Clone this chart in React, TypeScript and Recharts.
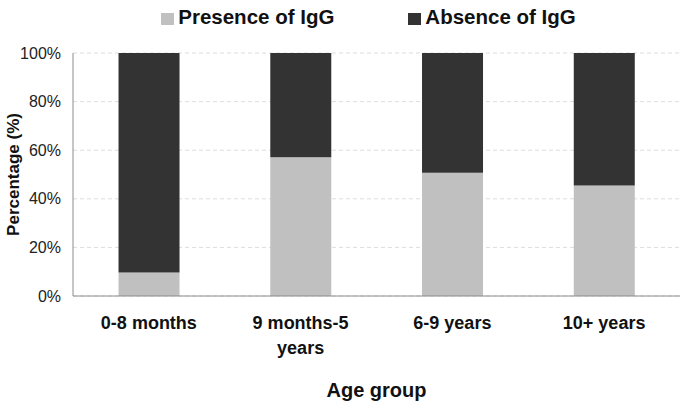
import React from "react"
import { Bar, BarChart, CartesianGrid, Legend, XAxis, YAxis } from "recharts"

const ageGroups = ["0-8 months", "9 months-5 years", "6-9 years", "10+ years"]
const presence = [9.7, 57.1, 50.7, 45.5]
const absence = presence.map((p) => 100 - p)
const yTicks = [0, 20, 40, 60, 80, 100]

const data = ageGroups.map((name, i) => ({ name, presence: presence[i], absence: absence[i] }))

const font = "Liberation Sans, Arial, sans-serif"

// wrap long category names onto two lines, like the original
function splitLabel(s: string): string[] {
  if (s.length <= 12) return [s]
  const i = s.lastIndexOf(" ")
  return [s.slice(0, i), s.slice(i + 1)]
}

function AgeTick(props: any) {
  const { x, y, payload } = props
  const lines = splitLabel(payload.value)
  return (
    <text x={x} y={y} textAnchor="middle" fontSize={18} fontWeight="bold" fontFamily={font} fill="#111">
      {lines.map((l, i) => (
        <tspan key={i} x={x} dy={i === 0 ? 25 : 25}>
          {l}
        </tspan>
      ))}
    </text>
  )
}

function LegendBox() {
  const items = [
    { label: "Presence of IgG", color: "#c0c0c0" },
    { label: "Absence of IgG", color: "#333333" },
  ]
  return (
    <div style={{ display: "flex", justifyContent: "center", gap: 74, marginLeft: 52, fontFamily: font, fontWeight: "bold", fontSize: 20.5, color: "#111", lineHeight: "24px" }}>
      {items.map((it) => (
        <div key={it.label} style={{ display: "flex", alignItems: "center" }}>
          <span style={{ display: "inline-block", width: 13, height: 12, background: it.color, marginRight: 4, marginTop: 4 }} />
          <span>{it.label}</span>
        </div>
      ))}
    </div>
  )
}

export default function App() {
  return (
    <div style={{ position: "absolute", left: 0, top: 0, background: "#fff" }}>
      <BarChart width={685} height={410} data={data} margin={{ top: 53, right: 5, bottom: 0, left: 0 }} barCategoryGap="30%">
        <CartesianGrid vertical={false} stroke="#dddddd" strokeDasharray="4 3" />
        <XAxis
          dataKey="name"
          tick={<AgeTick />}
          tickLine={false}
          axisLine={{ stroke: "#8c8c8c" }}
          height={114}
          interval={0}
          label={{ value: "Age group", position: "insideBottom", offset: 13, fontSize: 20, fontWeight: "bold", fontFamily: font, fill: "#111" }}
        />
        <XAxis xAxisId="top" orientation="top" dataKey="name" tick={false} tickLine={false} height={0} axisLine={{ stroke: "#8c8c8c" }} />
        <YAxis
          domain={[0, 100]}
          ticks={yTicks}
          tickFormatter={(v) => `${v}%`}
          tickLine={false}
          axisLine={{ stroke: "#8c8c8c" }}
          width={73}
          tickMargin={6}
          tick={{ fontSize: 16, fontFamily: font, fill: "#222" }}
          label={{ value: "Percentage (%)", angle: -90, position: "insideLeft", offset: 13, fontSize: 17, fontWeight: "bold", fontFamily: font, fill: "#111", style: { textAnchor: "middle" } }}
        />
        <YAxis yAxisId="right" orientation="right" tick={false} tickLine={false} width={0} axisLine={{ stroke: "#8c8c8c" }} />
        <Legend verticalAlign="middle" align="center" wrapperStyle={{ top: 5, left: 0, width: 685 }} content={<LegendBox />} />
        <Bar dataKey="presence" stackId="a" fill="#c0c0c0" isAnimationActive={false} />
        <Bar dataKey="absence" stackId="a" fill="#333333" isAnimationActive={false} />
      </BarChart>
    </div>
  )
}
